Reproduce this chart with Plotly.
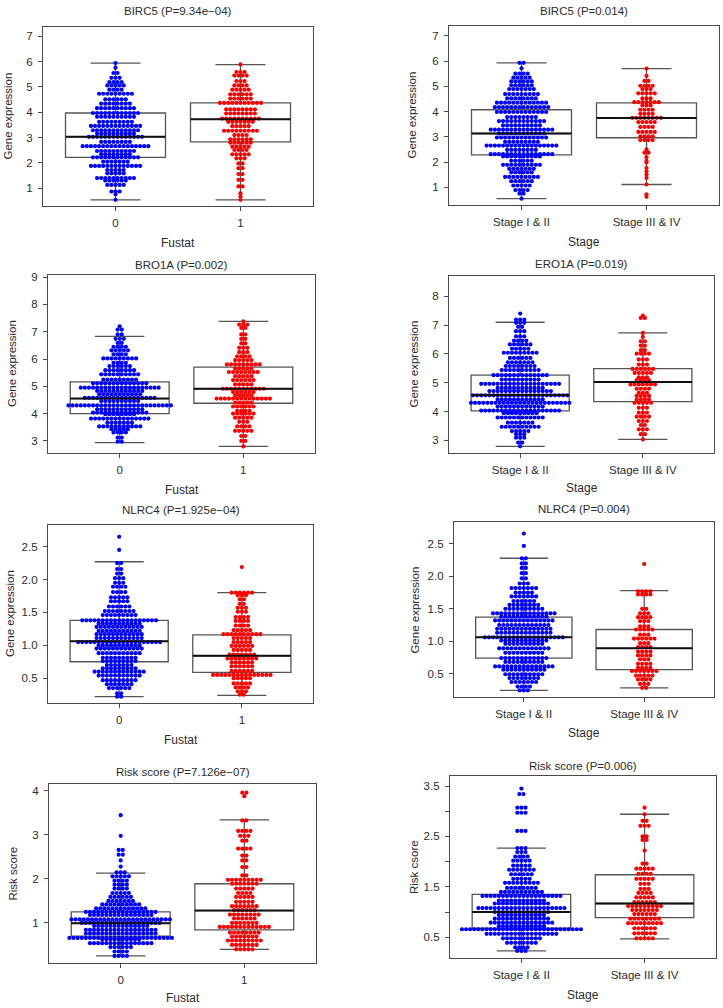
import plotly.graph_objects as go

W, H = 723, 1008
BLUE = "#0000FF"
RED = "#FF0000"
FONT = "Liberation Sans, Arial, Helvetica, sans-serif"
TXT = "#2b2b2b"
LINE = "#4a4a4a"

# ---------------- data (row level values and number of points per row) ----------------
# BIRC5 by Fustat
birc5_fu0_y = [0.54, 0.76, 0.87, 1.13, 1.30, 1.40, 1.59, 1.72, 1.88, 2.05, 2.22, 2.34, 2.47, 2.66, 2.83, 3.03, 3.16,
               3.29, 3.46, 3.62, 3.82, 3.97, 4.16, 4.34, 4.51, 4.73, 4.89, 5.06, 5.19, 5.36, 5.55, 5.76, 5.94]
birc5_fu0_n = [1, 1, 3, 5, 6, 10, 5, 5, 13, 7, 12, 8, 10, 17, 8, 14, 10, 12, 13, 9, 10, 12, 10, 8, 6, 9, 4, 5, 4, 3, 2, 1, 1]
birc5_fu1_y = [0.54, 0.67, 0.80, 1.07, 1.33, 1.56, 1.79, 1.98, 2.18, 2.34, 2.51, 2.64, 2.80, 2.93, 3.10, 3.27, 3.45,
               3.62, 3.75, 3.95, 4.11, 4.37, 4.54, 4.71, 4.89, 5.06, 5.23, 5.45, 5.59, 5.89]
birc5_fu1_n = [1, 1, 1, 2, 2, 2, 2, 2, 3, 5, 4, 5, 6, 6, 4, 9, 5, 7, 10, 8, 8, 11, 6, 6, 5, 4, 3, 4, 3, 1]
# BIRC5 by Stage
birc5_st0_y = [0.55, 0.75, 0.89, 1.07, 1.24, 1.41, 1.59, 1.73, 1.89, 2.05, 2.22, 2.31, 2.48, 2.65, 2.80, 2.97, 3.13,
               3.28, 3.45, 3.62, 3.78, 3.98, 4.17, 4.35, 4.52, 4.69, 4.89, 5.04, 5.19, 5.34, 5.50, 5.71, 5.93]
birc5_st0_n = [1, 2, 4, 5, 6, 9, 6, 7, 10, 6, 10, 16, 8, 18, 9, 13, 12, 16, 10, 12, 8, 13, 14, 13, 8, 9, 7, 6, 6, 5, 4, 1, 2]
birc5_st1_y = [0.62, 0.72, 1.11, 1.37, 1.50, 1.62, 1.76, 1.98, 2.05, 2.19, 2.37, 2.50, 2.87, 3.02, 3.19, 3.39, 3.58,
               3.75, 3.91, 4.07, 4.24, 4.37, 4.52, 4.72, 4.89, 5.02, 5.21, 5.41, 5.70]
birc5_st1_n = [1, 1, 1, 1, 1, 1, 1, 1, 1, 1, 2, 1, 4, 4, 5, 4, 5, 8, 4, 4, 3, 7, 3, 5, 3, 4, 2, 1, 1]
# BRO1A / ERO1A
ero1a_fu0_y = [2.97, 3.12, 3.31, 3.43, 3.53, 3.67, 3.82, 3.98, 4.04, 4.16, 4.30, 4.46, 4.58, 4.71, 4.83, 4.95, 5.11,
               5.25, 5.44, 5.59, 5.74, 5.86, 6.02, 6.17, 6.32, 6.45, 6.59, 6.74, 6.90, 7.08, 7.20]
ero1a_fu0_n = [2, 2, 4, 5, 11, 7, 15, 8, 14, 12, 26, 10, 18, 11, 12, 20, 14, 9, 10, 8, 6, 4, 9, 4, 5, 4, 2, 3, 2, 2, 1]
ero1a_fu1_y = [2.80, 3.00, 3.18, 3.37, 3.53, 3.70, 3.85, 4.00, 4.10, 4.26, 4.40, 4.55, 4.67, 4.79, 4.91, 5.07, 5.23,
               5.37, 5.52, 5.65, 5.80, 5.96, 6.10, 6.25, 6.41, 6.57, 6.74, 6.90, 7.14, 7.26, 7.38]
ero1a_fu1_n = [1, 2, 2, 5, 4, 3, 5, 6, 4, 6, 5, 14, 5, 6, 11, 5, 6, 5, 8, 5, 9, 5, 4, 3, 3, 2, 2, 2, 2, 3, 1]
ero1a_st0_y = [2.79, 2.92, 3.09, 3.21, 3.32, 3.47, 3.61, 3.79, 3.94, 4.03, 4.17, 4.30, 4.42, 4.56, 4.71, 4.82, 4.96,
               5.11, 5.26, 5.44, 5.58, 5.71, 5.86, 6.04, 6.18, 6.33, 6.46, 6.61, 6.79, 6.94, 7.08, 7.19, 7.40]
ero1a_st0_n = [1, 2, 3, 3, 5, 10, 7, 12, 9, 20, 12, 25, 12, 24, 16, 12, 20, 10, 14, 10, 8, 7, 6, 9, 5, 6, 4, 3, 3, 2, 3, 3, 1]
ero1a_st1_y = [3.03, 3.21, 3.38, 3.53, 3.67, 3.82, 3.96, 4.13, 4.30, 4.42, 4.54, 4.65, 4.79, 4.94, 5.09, 5.19, 5.34,
               5.48, 5.63, 5.81, 6.01, 6.13, 6.29, 6.44, 6.59, 6.73, 7.25, 7.33]
ero1a_st1_n = [1, 2, 3, 2, 3, 4, 3, 3, 5, 4, 4, 3, 4, 7, 4, 3, 5, 6, 3, 3, 4, 2, 2, 2, 1, 1, 2, 1]
# NLRC4
nlrc4_fu0_y = [0.22, 0.27, 0.35, 0.41, 0.47, 0.54, 0.60, 0.65, 0.70, 0.76, 0.81, 0.88, 0.95, 1.00, 1.05, 1.11, 1.17,
               1.22, 1.28, 1.33, 1.38, 1.46, 1.52, 1.59, 1.67, 1.73, 1.81, 1.89, 1.95, 2.02, 2.09, 2.16, 2.25, 2.45, 2.65]
nlrc4_fu0_n = [2, 2, 6, 7, 9, 11, 13, 9, 7, 9, 9, 11, 12, 11, 21, 12, 12, 11, 12, 11, 19, 9, 8, 6, 5, 5, 4, 4, 3, 3, 2, 2, 2, 1, 1]
nlrc4_fu1_y = [0.25, 0.30, 0.36, 0.42, 0.50, 0.55, 0.61, 0.68, 0.74, 0.80, 0.86, 0.93, 0.99, 1.05, 1.11, 1.17, 1.23,
               1.30, 1.37, 1.43, 1.51, 1.57, 1.63, 1.70, 1.76, 1.80, 2.19]
nlrc4_fu1_n = [2, 3, 4, 5, 5, 15, 6, 6, 6, 8, 7, 5, 6, 5, 5, 10, 5, 4, 4, 4, 3, 3, 2, 2, 3, 6, 1]
nlrc4_st0_y = [0.24, 0.30, 0.37, 0.43, 0.49, 0.56, 0.61, 0.68, 0.74, 0.82, 0.89, 0.96, 1.01, 1.06, 1.13, 1.19, 1.25,
               1.32, 1.38, 1.43, 1.50, 1.56, 1.62, 1.69, 1.75, 1.82, 1.89, 1.97, 2.05, 2.13, 2.20, 2.28, 2.47, 2.66]
nlrc4_st0_n = [3, 4, 7, 8, 10, 11, 15, 10, 12, 10, 13, 10, 12, 20, 14, 14, 13, 15, 12, 16, 10, 8, 6, 7, 5, 7, 3, 2, 2, 2, 2, 2, 1, 1]
nlrc4_st1_y = [0.28, 0.34, 0.41, 0.47, 0.54, 0.59, 0.65, 0.72, 0.78, 0.84, 0.91, 0.97, 1.04, 1.10, 1.18, 1.23, 1.31,
               1.37, 1.43, 1.50, 1.72, 1.77, 2.19]
nlrc4_st1_n = [2, 3, 4, 5, 7, 4, 4, 3, 4, 4, 4, 3, 6, 3, 5, 3, 3, 4, 3, 2, 4, 4, 1]
# Risk score
risk_fu0_y = [0.24, 0.34, 0.44, 0.53, 0.62, 0.65, 0.75, 0.83, 0.92, 0.99, 1.07, 1.17, 1.24, 1.32, 1.41, 1.49, 1.58,
              1.67, 1.77, 1.86, 1.95, 2.05, 2.14, 2.27, 2.41, 2.54, 2.65, 2.97, 3.44]
risk_fu0_n = [4, 4, 6, 16, 10, 26, 18, 18, 14, 20, 25, 16, 18, 13, 10, 7, 6, 5, 4, 4, 4, 5, 3, 1, 1, 2, 2, 1, 1]
risk_fu1_y = [0.39, 0.49, 0.59, 0.68, 0.77, 0.90, 0.99, 1.09, 1.18, 1.28, 1.37, 1.47, 1.58, 1.67, 1.77, 1.88, 1.97,
              2.07, 2.26, 2.41, 2.52, 2.68, 2.86, 2.97, 3.08, 3.32, 3.87, 3.95]
risk_fu1_n = [5, 7, 9, 7, 8, 13, 7, 6, 8, 6, 7, 5, 5, 4, 5, 7, 9, 2, 2, 2, 2, 4, 2, 3, 4, 2, 1, 2]
risk_st0_y = [0.23, 0.30, 0.39, 0.48, 0.57, 0.66, 0.72, 0.79, 0.87, 0.94, 1.00, 1.08, 1.17, 1.23, 1.32, 1.40, 1.48,
              1.58, 1.66, 1.75, 1.84, 1.92, 2.02, 2.10, 2.19, 2.27, 2.61, 2.97, 3.07, 3.34, 3.45]
risk_st0_n = [3, 4, 8, 10, 18, 30, 12, 16, 14, 12, 14, 22, 14, 12, 20, 11, 8, 9, 5, 6, 7, 5, 5, 4, 3, 3, 3, 3, 3, 2, 1]
risk_st1_y = [0.48, 0.58, 0.68, 0.78, 0.87, 0.96, 1.04, 1.12, 1.20, 1.29, 1.38, 1.46, 1.56, 1.66, 1.76, 1.86, 1.96,
              2.22, 2.43, 2.50, 2.71, 2.81, 2.94, 3.07]
risk_st1_n = [5, 6, 6, 9, 8, 6, 7, 9, 6, 5, 4, 3, 3, 5, 4, 5, 2, 1, 2, 2, 3, 2, 1, 1]

# box statistics: [lower whisker, Q1, median, Q3, upper whisker]
birc5_fu0_box = [0.54, 2.22, 3.03, 3.97, 5.94]
birc5_fu1_box = [0.54, 2.83, 3.72, 4.37, 5.88]
birc5_st0_box = [0.55, 2.28, 3.13, 4.07, 5.93]
birc5_st1_box = [1.11, 2.96, 3.74, 4.34, 5.70]
ero1a_fu0_box = [2.94, 4.00, 4.55, 5.16, 6.83]
ero1a_fu1_box = [2.80, 4.38, 4.91, 5.70, 7.38]
ero1a_st0_box = [2.79, 4.02, 4.57, 5.26, 7.10]
ero1a_st1_box = [3.03, 4.34, 5.02, 5.49, 6.73]
nlrc4_fu0_box = [0.22, 0.75, 1.06, 1.38, 2.27]
nlrc4_fu1_box = [0.24, 0.59, 0.84, 1.16, 1.80]
nlrc4_st0_box = [0.24, 0.74, 1.06, 1.37, 2.28]
nlrc4_st1_box = [0.28, 0.56, 0.89, 1.18, 1.78]
risk_fu0_box = [0.24, 0.69, 0.98, 1.24, 2.12]
risk_fu1_box = [0.39, 0.83, 1.27, 1.88, 3.33]
risk_st0_box = [0.23, 0.68, 1.00, 1.35, 2.27]
risk_st1_box = [0.47, 0.89, 1.17, 1.74, 2.94]

fustat_labels = ["0", "1"]
stage_labels = ["Stage I & II", "Stage III & IV"]

titles = ["BIRC5 (P=9.34e\u221204)", "BIRC5 (P=0.014)", "BRO1A (P=0.002)", "ERO1A (P=0.019)",
          "NLRC4 (P=1.925e\u221204)", "NLRC4 (P=0.004)", "Risk score (P=7.126e\u221207)", "Risk score (P=0.006)"]
ytitles = ["Gene expression"] * 6 + ["Risk score", "Risk csore"]
xtitles = ["Fustat", "Stage"] * 4

# ---------------- layout geometry (pixels) ----------------
panels = [
    dict(frame=(43, 23, 313, 203), yr=(0.29, 7.37), ticks=[1, 2, 3, 4, 5, 6, 7], tt=None, ty=7, xty=240, ytx=8,
         g0=(birc5_fu0_y, birc5_fu0_n, birc5_fu0_box), g1=(birc5_fu1_y, birc5_fu1_n, birc5_fu1_box), xl=fustat_labels),
    dict(frame=(449, 22, 719, 202), yr=(0.29, 7.39), ticks=[1, 2, 3, 4, 5, 6, 7], tt=None, ty=7, xty=239, ytx=412,
         g0=(birc5_st0_y, birc5_st0_n, birc5_st0_box), g1=(birc5_st1_y, birc5_st1_n, birc5_st1_box), xl=stage_labels),
    dict(frame=(48, 272, 315, 451), yr=(2.55, 9.08), ticks=[3, 4, 5, 6, 7, 8, 9], tt=None, ty=262, xty=488, ytx=12,
         g0=(ero1a_fu0_y, ero1a_fu0_n, ero1a_fu0_box), g1=(ero1a_fu1_y, ero1a_fu1_n, ero1a_fu1_box), xl=fustat_labels),
    dict(frame=(449, 273, 714, 451), yr=(2.55, 8.71), ticks=[3, 4, 5, 6, 7, 8], tt=None, ty=261, xty=486, ytx=414,
         g0=(ero1a_st0_y, ero1a_st0_n, ero1a_st0_box), g1=(ero1a_st1_y, ero1a_st1_n, ero1a_st1_box), xl=stage_labels),
    dict(frame=(48, 523, 313, 702), yr=(0.12, 2.83), ticks=[0.5, 1.0, 1.5, 2.0, 2.5],
         tt=["0.5", "1.0", "1.5", "2.0", "2.5"], ty=508, xty=739, ytx=10,
         g0=(nlrc4_fu0_y, nlrc4_fu0_n, nlrc4_fu0_box), g1=(nlrc4_fu1_y, nlrc4_fu1_n, nlrc4_fu1_box), xl=fustat_labels),
    dict(frame=(454, 520, 714, 696), yr=(0.135, 2.84), ticks=[0.5, 1.0, 1.5, 2.0, 2.5],
         tt=["0.5", "1.0", "1.5", "2.0", "2.5"], ty=507, xty=732, ytx=415,
         g0=(nlrc4_st0_y, nlrc4_st0_n, nlrc4_st0_box), g1=(nlrc4_st1_y, nlrc4_st1_n, nlrc4_st1_box), xl=stage_labels),
    dict(frame=(49, 783, 316, 963), yr=(0.075, 4.15), ticks=[1, 2, 3, 4], tt=None, ty=771, xty=998, ytx=13,
         g0=(risk_fu0_y, risk_fu0_n, risk_fu0_box), g1=(risk_fu1_y, risk_fu1_n, risk_fu1_box), xl=fustat_labels),
    dict(frame=(450, 775, 716, 958), yr=(0.086, 3.70), ticks=[0.5, 1.0, 1.5, 2.0, 2.5, 3.0, 3.5],
         tt=["0.5", "", "1.5", "", "2.5", "", "3.5"], ty=765, xty=995, ytx=414,
         g0=(risk_st0_y, risk_st0_n, risk_st0_box), g1=(risk_st1_y, risk_st1_n, risk_st1_box), xl=stage_labels),
]

XR = (0.42, 2.58)
DOT_PX = 4.1

fig = go.Figure()
annotations = []
layout_axes = {}

for i, p in enumerate(panels):
    k = "" if i == 0 else str(i + 1)
    xa, ya = "x" + k, "y" + k
    L, T, R, B = p["frame"]
    px_per_x = (R - L) / (XR[1] - XR[0])
    dx = DOT_PX / px_per_x
    for cat, (ys, ns, box), col in [(1, p["g0"], BLUE), (2, p["g1"], RED)]:
        xs, yv = [], []
        for yy, n in zip(ys, ns):
            for j in range(n):
                xs.append(cat + (j - (n - 1) / 2) * dx)
                yv.append(yy)
        fig.add_trace(go.Scatter(x=xs, y=yv, mode="markers", xaxis=xa, yaxis=ya,
                                 marker=dict(size=4.2, color=col, line=dict(width=0)),
                                 showlegend=False, hoverinfo="skip"))
    for cat, (ys, ns, box) in [(1, p["g0"]), (2, p["g1"])]:
        lo, q1, med, q3, hi = box
        fig.add_trace(go.Box(x=[cat], lowerfence=[lo], q1=[q1], median=[med], q3=[q3], upperfence=[hi],
                             width=0.8, whiskerwidth=0.5, boxpoints=False, xaxis=xa, yaxis=ya,
                             fillcolor="rgba(0,0,0,0)", line=dict(color="#555555", width=1.3),
                             showlegend=False, hoverinfo="skip"))
        fig.add_trace(go.Scatter(x=[cat - 0.4, cat + 0.4], y=[med, med], mode="lines", xaxis=xa, yaxis=ya,
                                 line=dict(color="#111111", width=2), showlegend=False, hoverinfo="skip"))
    common = dict(showline=True, mirror=True, linecolor=LINE, linewidth=1.2, showgrid=False, zeroline=False,
                  ticks="outside", ticklen=4, tickwidth=1, tickcolor=LINE,
                  tickfont=dict(family=FONT, size=11.5, color=TXT))
    layout_axes["xaxis" + k] = dict(common, domain=[L / W, R / W], range=list(XR), tickmode="array",
                                    tickvals=[1, 2], ticktext=p["xl"], anchor=ya, ticklabelstandoff=2)
    yax = dict(common, domain=[1 - B / H, 1 - T / H], range=list(p["yr"]), tickmode="array",
               tickvals=p["ticks"], anchor=xa, ticklabelstandoff=3)
    if p["tt"] is not None:
        yax["ticktext"] = p["tt"]
    layout_axes["yaxis" + k] = yax
    # texts
    annotations.append(dict(text=titles[i], x=(L + R) / 2 / W, y=1 - p["ty"] / H, xref="paper", yref="paper",
                            showarrow=False, xanchor="center", yanchor="middle",
                            font=dict(family=FONT, size=11.5, color=TXT)))
    annotations.append(dict(text=xtitles[i], x=(L + R) / 2 / W, y=1 - p["xty"] / H, xref="paper", yref="paper",
                            showarrow=False, xanchor="center", yanchor="middle",
                            font=dict(family=FONT, size=12, color=TXT)))
    annotations.append(dict(text=ytitles[i], x=p["ytx"] / W, y=1 - (T + B) / 2 / H, xref="paper", yref="paper",
                            showarrow=False, xanchor="center", yanchor="middle", textangle=-90,
                            font=dict(family=FONT, size=11.5, color=TXT)))

fig.update_layout(width=W, height=H, margin=dict(l=0, r=0, t=0, b=0), paper_bgcolor="white",
                  plot_bgcolor="white", showlegend=False, annotations=annotations, boxmode="overlay",
                  **layout_axes)

fig.write_html("out.html", config={"displayModeBar": False},
               post_script="document.body.style.margin='0';document.body.style.padding='0';"
                           "document.documentElement.style.overflow='hidden';")
